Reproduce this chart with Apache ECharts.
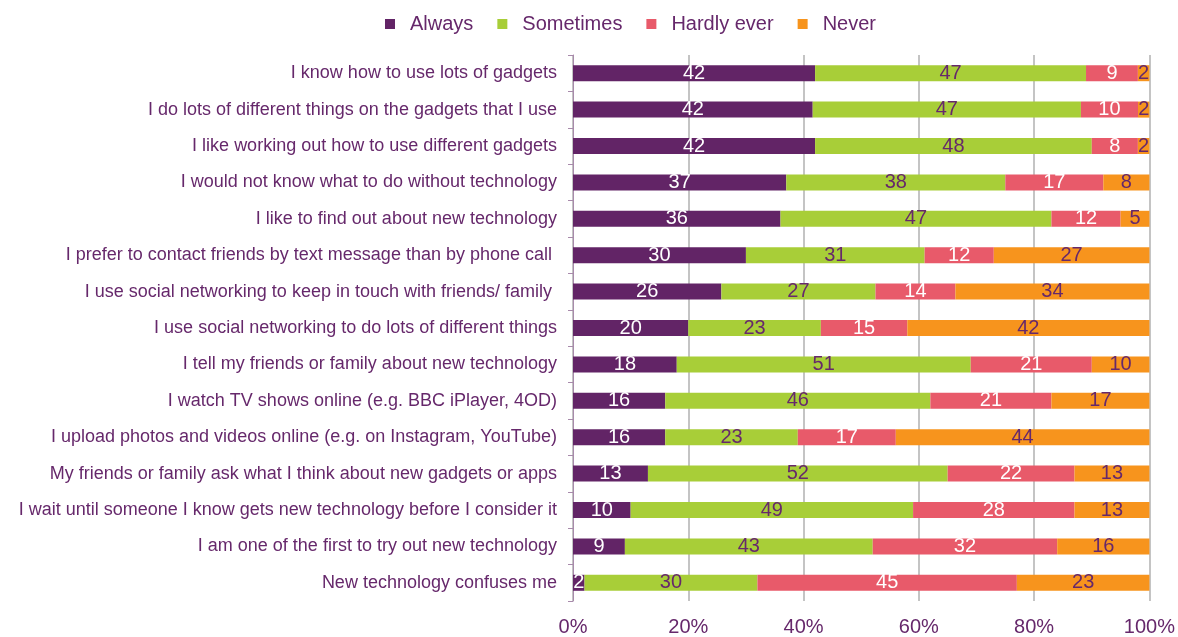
<!DOCTYPE html>
<html>
<head>
<meta charset="utf-8">
<script src="https://cdn.jsdelivr.net/npm/echarts@6/dist/echarts.min.js"></script>
<style>
  html, body { margin: 0; padding: 0; background: #fff; }
  #chart { width: 1178px; height: 637px; }
</style>
</head>
<body>
<div id="chart"></div>
<script>
// statements, top to bottom
const statements = [
  'I know how to use lots of gadgets',
  'I do lots of different things on the gadgets that I use',
  'I like working out how to use different gadgets',
  'I would not know what to do without technology',
  'I like to find out about new technology',
  'I prefer to contact friends by text message than by phone call ',
  'I use social networking to keep in touch with friends/ family ',
  'I use social networking to do lots of different things',
  'I tell my friends or family about new technology',
  'I watch TV shows online (e.g. BBC iPlayer, 4OD)',
  'I upload photos and videos online (e.g. on Instagram, YouTube)',
  'My friends or family ask what I think about new gadgets or apps',
  'I wait until someone I know gets new technology before I consider it',
  'I am one of the first to try out new technology',
  'New technology confuses me'
]

const seriesNames = ['Always', 'Sometimes', 'Hardly ever', 'Never']

// raw percentages as labelled in the chart
const always     = [42, 42, 42, 37, 36, 30, 26, 20, 18, 16, 16, 13, 10, 9, 2]
const sometimes  = [47, 47, 48, 38, 47, 31, 27, 23, 51, 46, 23, 52, 49, 43, 30]
const hardlyEver = [9, 10, 8, 17, 12, 12, 14, 15, 21, 21, 17, 22, 28, 32, 45]
const never      = [2, 2, 2, 8, 5, 27, 34, 42, 10, 17, 44, 13, 13, 16, 23]

const xTicks = [0, 20, 40, 60, 80, 100]

const textColor = '#66286b'
const colors = ['#622466', '#a8ce38', '#e85a6a', '#f7941d']
const labelColors = ['#ffffff', textColor, '#ffffff', textColor]

const rawSeries = [always, sometimes, hardlyEver, never]

// bars are scaled so every row fills 100%
const totals = statements.map((s, i) => rawSeries.reduce((sum, arr) => sum + arr[i], 0))

const chart = echarts.init(document.getElementById('chart'))

const series = seriesNames.map((name, k) => ({
  name: name,
  type: 'bar',
  stack: 'total',
  barWidth: 16,
  itemStyle: { color: colors[k] },
  label: {
    show: true,
    position: 'inside',
    color: labelColors[k],
    fontSize: 20,
    fontFamily: 'Liberation Sans, Arial, sans-serif',
    formatter: p => rawSeries[k][p.dataIndex]
  },
  data: rawSeries[k].map((v, i) => v / totals[i] * 100)
}))

const option = {
  animation: false,
  textStyle: { fontFamily: 'Liberation Sans, Arial, sans-serif' },
  legend: {
    data: seriesNames,
    top: 9,
    left: 380,
    icon: 'rect',
    itemWidth: 10,
    itemHeight: 10,
    itemGap: 24,
    textStyle: { color: textColor, fontSize: 20, padding: [0, 0, 0, 10] }
  },
  grid: {
    left: 573,
    right: 28,
    top: 55,
    bottom: 36,
    containLabel: false
  },
  xAxis: {
    type: 'value',
    min: 0,
    max: 100,
    interval: 20,
    axisLine: { show: false },
    axisTick: { show: false },
    axisLabel: {
      color: textColor,
      fontSize: 20,
      margin: 16,
      formatter: v => xTicks.includes(v) ? v + '%' : ''
    },
    splitLine: { lineStyle: { color: '#c4c4c4', width: 2 } }
  },
  yAxis: {
    type: 'category',
    inverse: true,
    data: statements,
    axisLine: { lineStyle: { color: '#a88aab', width: 1 } },
    axisTick: { show: true, length: 5, lineStyle: { color: '#a88aab' } },
    axisLabel: {
      color: textColor,
      fontSize: 18,
      margin: 16
    }
  },
  series: series
}

chart.setOption(option)
</script>
</body>
</html>
